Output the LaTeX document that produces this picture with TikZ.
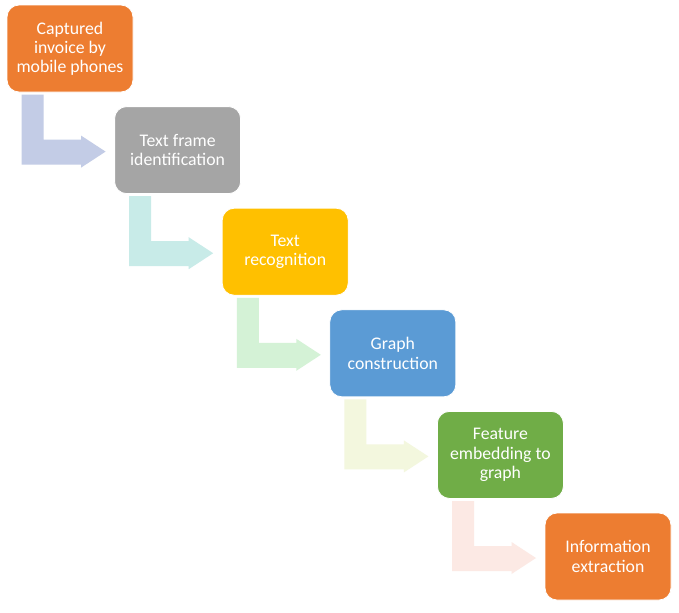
\documentclass[tikz,border=0pt]{standalone}
\usepackage{fontspec}
\setmainfont{Carlito}
\usetikzlibrary{calc}
\definecolor{cOrange}{HTML}{ED7D31}
\definecolor{cGray}{HTML}{A5A5A5}
\definecolor{cGold}{HTML}{FFC000}
\definecolor{cBlue}{HTML}{5B9BD5}
\definecolor{cGreen}{HTML}{70AD47}
\definecolor{aOne}{HTML}{C3CCE6}
\definecolor{aTwo}{HTML}{C8EBE8}
\definecolor{aThree}{HTML}{D4F2D6}
\definecolor{aFour}{HTML}{F3F7DE}
\definecolor{aFive}{HTML}{FCE9E4}
\tikzset{
  stepbox/.style={rounded corners=12*0.75pt, minimum width=126*0.75pt, minimum height=87*0.75pt,
    align=center, inner sep=0pt, text=white,
    font=\fontsize{13.3}{14.4}\selectfont, draw=white, line width=0.6pt},
}
\newcommand{\bentarrow}[2]{%
  \fill[#2] ($(#1.north west)+(15,90)$) -- ($(#1.north west)+(37,90)$) -- ($(#1.north west)+(37,135)$)
   -- ($(#1.north west)+(74.5,135)$) -- ($(#1.north west)+(74.5,131)$) -- ($(#1.north west)+(99,147)$)
   -- ($(#1.north west)+(74.5,163)$) -- ($(#1.north west)+(74.5,160)$) -- ($(#1.north west)+(15,160)$) -- cycle;}
\begin{document}
\begin{tikzpicture}[x=0.75pt,y=-0.75pt]
\useasboundingbox[fill=white] (0,0) rectangle (679,612);
\node[stepbox, fill=cOrange] (b1) at (70,48.5) {Captured\\invoice by\\mobile phones};
\node[stepbox, fill=cGray] (b2) at (177.6,150.1) {Text frame\\identification};
\node[stepbox, fill=cGold] (b3) at (285.2,251.7) {Text\\recognition};
\node[stepbox, fill=cBlue] (b4) at (392.8,353.3) {Graph\\construction};
\node[stepbox, fill=cGreen] (b5) at (500.4,454.9) {Feature\\embedding to\\graph};
\node[stepbox, fill=cOrange] (b6) at (608,556.5) {Information\\extraction};
\bentarrow{b1}{aOne}
\bentarrow{b2}{aTwo}
\bentarrow{b3}{aThree}
\bentarrow{b4}{aFour}
\bentarrow{b5}{aFive}
\end{tikzpicture}
\end{document}
